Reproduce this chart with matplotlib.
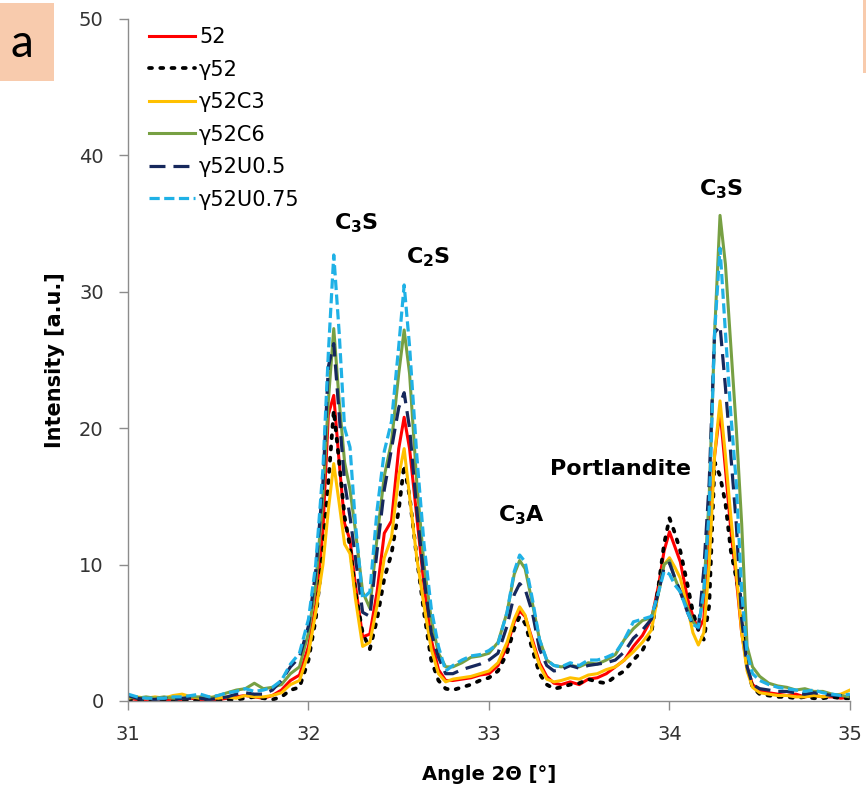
import numpy as np
import matplotlib
matplotlib.use("Agg")
import matplotlib.pyplot as plt
from matplotlib.patches import Rectangle

# diffraction angle grid (shared by all series)
angle = [
    31.00, 31.05, 31.10, 31.15, 31.20, 31.25, 31.30, 31.35, 31.40, 31.45, 31.50, 31.55, 31.60, 31.65, 31.70, 31.75, 31.80,
    31.85, 31.90, 31.95, 32.00, 32.04, 32.08, 32.11, 32.14, 32.17, 32.20, 32.23, 32.26, 32.30, 32.34, 32.38, 32.42, 32.46,
    32.50, 32.53, 32.56, 32.60, 32.64, 32.68, 32.72, 32.76, 32.80,
    32.85, 32.90, 32.95, 33.00, 33.05, 33.10, 33.14, 33.17, 33.20, 33.24, 33.28, 33.32, 33.36, 33.40, 33.45, 33.50, 33.55,
    33.60, 33.65, 33.70, 33.75, 33.80,
    33.85, 33.90, 33.94, 33.97, 34.00, 34.03, 34.06, 34.10, 34.13, 34.16, 34.19, 34.22, 34.25, 34.28, 34.31, 34.34, 34.37,
    34.40, 34.43, 34.46, 34.50,
    34.55, 34.60, 34.65, 34.70, 34.75, 34.80, 34.85, 34.90, 34.95, 35.00,
]

s52 = [
    0.2, 0.1, 0.1, 0.2, 0.1, 0.1, 0.1, 0.2, 0.1, 0.1, 0.1, 0.2, 0.3, 0.4, 0.3, 0.2, 0.4,
    0.8, 1.5, 1.9, 4.0, 7.0, 12.5, 21.0, 22.4, 17.5, 13.0, 11.8, 8.5, 4.7, 4.9, 8.0, 12.3, 13.2,
    18.5, 20.8, 18.5, 13.5, 8.5, 4.5, 2.3, 1.5, 1.5,
    1.6, 1.7, 1.9, 2.0, 2.6, 4.0, 5.8, 6.6, 6.2, 4.5, 2.8, 1.8, 1.3, 1.2, 1.4, 1.2, 1.6,
    1.7, 2.0, 2.5, 3.0, 4.0,
    4.8, 6.0, 8.5, 11.0, 12.4, 11.3, 10.2, 7.5, 6.2, 5.2, 6.0, 12.0, 18.0, 21.3, 17.0, 12.5, 9.0,
    5.0, 2.5, 1.2, 0.8,
    0.6, 0.5, 0.4, 0.5, 0.3, 0.4, 0.3, 0.3, 0.2, 0.3,
]
g52 = [
    0.1, 0.0, 0.0, 0.1, 0.0, 0.0, 0.1, 0.0, 0.0, 0.0, 0.0, 0.1, 0.1, 0.2, 0.3, 0.2, 0.1,
    0.3, 0.8, 1.0, 3.0, 6.0, 11.0, 16.0, 21.3, 17.5, 13.5, 11.3, 8.0, 5.0, 3.8, 6.0, 9.0, 10.8,
    14.0, 17.3, 15.0, 10.5, 6.5, 3.0, 1.5, 0.9, 0.8,
    1.0, 1.2, 1.5, 1.7, 2.2, 3.5, 5.3, 6.2, 5.7, 3.8, 2.0, 1.2, 0.9, 1.0, 1.2, 1.3, 1.6,
    1.4, 1.3, 1.8, 2.2, 3.0,
    3.7, 5.0, 8.5, 11.5, 13.4, 12.3, 11.0, 8.5, 6.5, 5.2, 4.5, 7.0, 17.5, 16.5, 14.5, 11.0, 9.0,
    7.0, 2.5, 1.0, 0.5,
    0.4, 0.3, 0.3, 0.2, 0.3, 0.2, 0.2, 0.3, 0.2, 0.2,
]
g52c3 = [
    0.2, 0.3, 0.2, 0.3, 0.2, 0.4, 0.5, 0.3, 0.2, 0.3, 0.2, 0.3, 0.2, 0.4, 0.3, 0.3, 0.4,
    0.6, 1.2, 1.5, 3.5, 6.5, 10.0, 14.0, 17.4, 14.5, 11.5, 10.8, 7.5, 4.0, 4.3, 7.0, 10.5, 12.0,
    16.5, 18.5, 15.0, 10.5, 7.0, 3.8, 2.0, 1.4, 1.6,
    1.7, 1.8, 2.0, 2.2, 2.8, 4.3, 6.0, 6.9, 6.3, 4.3, 2.6, 1.6, 1.4, 1.5, 1.7, 1.6, 1.9,
    2.0, 2.3, 2.5, 3.0, 3.6,
    4.3, 5.2, 8.0, 10.0, 10.5, 9.8, 9.0, 6.8, 5.0, 4.1, 5.0, 10.0, 18.0, 22.0, 18.0, 13.5, 9.5,
    5.0, 2.2, 1.0, 0.6,
    0.5, 0.4, 0.4, 0.3, 0.3, 0.4, 0.3, 0.4, 0.5, 0.8,
]
g52c6 = [
    0.3, 0.2, 0.3, 0.2, 0.3, 0.2, 0.2, 0.3, 0.3, 0.2, 0.4, 0.6, 0.8, 0.9, 1.3, 0.9, 1.0,
    1.2, 2.0, 2.5, 5.0, 8.5, 15.0, 22.0, 27.3, 22.0, 17.5, 15.5, 12.5, 8.0, 6.8, 12.0, 16.5, 19.0,
    24.0, 27.2, 24.0, 16.0, 10.0, 6.0, 3.5, 2.5, 2.5,
    2.8, 3.2, 3.3, 3.5, 4.3, 6.5, 9.3, 10.3, 9.7, 7.2, 4.5, 3.0, 2.6, 2.5, 2.6, 2.5, 2.8,
    2.7, 3.0, 3.4, 4.5, 5.3,
    5.9, 6.1, 8.0, 10.0, 10.3, 9.0, 8.0, 6.8, 5.8, 5.4, 8.0, 15.0, 27.0, 35.6, 32.0, 26.0, 20.0,
    13.0, 4.0, 2.5, 1.8,
    1.3, 1.1, 1.0, 0.8, 0.9, 0.7, 0.7, 0.5, 0.4, 0.3,
]
g52u05 = [
    0.4, 0.2, 0.1, 0.1, 0.2, 0.1, 0.2, 0.2, 0.2, 0.1, 0.2, 0.3, 0.5, 0.6, 0.5, 0.5, 0.8,
    1.5, 2.5, 3.2, 5.5, 9.5, 16.0, 24.5, 26.2, 21.0, 16.0, 13.5, 10.5, 6.5, 6.2, 11.0, 15.5, 18.5,
    21.5, 22.6, 20.0, 14.0, 9.0, 5.0, 3.2, 2.0, 2.0,
    2.3, 2.5, 2.7, 3.0, 3.5, 5.5, 7.8, 8.6, 8.2, 6.5, 3.8, 2.6, 2.2, 2.3, 2.6, 2.4, 2.6,
    2.7, 2.8, 3.0, 3.6, 4.6,
    5.2, 6.0, 8.0, 9.8, 10.1, 9.0, 8.0, 6.5, 5.6, 5.3, 9.6, 16.0, 27.0, 27.5, 23.0, 18.0, 13.0,
    6.0, 2.5, 1.2, 0.9,
    0.8, 0.7, 0.7, 0.6, 0.5, 0.6, 0.5, 0.4, 0.4, 0.3,
]
g52u075 = [
    0.5, 0.3, 0.2, 0.2, 0.2, 0.3, 0.3, 0.4, 0.5, 0.3, 0.4, 0.6, 0.7, 0.9, 0.7, 0.8, 1.0,
    1.5, 2.7, 3.5, 6.0, 10.0, 17.0, 25.5, 32.7, 27.0, 20.0, 18.6, 13.0, 7.5, 8.0, 14.0, 18.3, 20.5,
    26.0, 30.5, 26.0, 18.0, 11.5, 6.8, 4.0, 2.2, 2.6,
    3.0, 3.3, 3.4, 3.7, 4.2, 6.5, 9.5, 10.7, 10.2, 7.5, 4.5, 3.0, 2.6, 2.5, 2.8, 2.6, 3.0,
    3.0, 3.2, 3.5, 4.5, 5.8,
    6.0, 6.2, 8.0, 9.5, 9.3, 8.5, 8.0, 6.5, 5.6, 5.4, 8.0, 14.0, 27.0, 33.2, 27.0, 21.0, 16.0,
    8.0, 3.5, 2.0, 1.5,
    1.2, 1.0, 0.9, 0.8, 0.7, 0.8, 0.6, 0.5, 0.4, 0.5,
]

labels = ["52", "γ52", "γ52C3", "γ52C6", "γ52U0.5", "γ52U0.75"]
series = [s52, g52, g52c3, g52c6, g52u05, g52u075]
colors = ["#ff0000", "#000000", "#ffc000", "#77a043", "#16285c", "#1fb1e6"]
styles = ["-", (0, (0.8, 2.2)), "-", "-", (0, (5, 2.5)), (0, (3.2, 1.4))]
widths = [2.2, 2.7, 2.2, 2.2, 2.3, 2.3]

peak_names = [r"$\mathbf{C_3S}$", r"$\mathbf{C_2S}$", r"$\mathbf{C_3A}$", "Portlandite", r"$\mathbf{C_3S}$"]
peak_x = [32.263, 32.662, 33.183, 33.726, 34.285]
peak_y = [35.0, 32.5, 13.6, 17.0, 37.5]

fig = plt.figure(figsize=(8.66, 7.97), dpi=100)
ax = fig.add_axes([0.1478, 0.1205, 0.8337, 0.8557])

for vals, lab, c, ls, lw in zip(series, labels, colors, styles, widths):
    line, = ax.plot(angle, vals, color=c, linestyle=ls, linewidth=lw, label=lab)
    if lab == "γ52":
        line.set_dash_capstyle("round")

ax.set_xlim(31, 35)
ax.set_ylim(0, 50)
ax.set_xticks([31, 32, 33, 34, 35])
ax.set_yticks([0, 10, 20, 30, 40, 50])

for side in ["top", "right"]:
    ax.spines[side].set_visible(False)
for side in ["left", "bottom"]:
    ax.spines[side].set_color("#8c8c8c")
    ax.spines[side].set_linewidth(1.0)
ax.tick_params(direction="out", length=6.5, width=1.0, color="#8c8c8c",
               labelsize=14, labelcolor="#333333", pad=11)

ax.set_xlabel("Angle 2Θ [°]", fontsize=14, fontweight="bold", labelpad=15)
ax.set_ylabel("Intensity [a.u.]", fontsize=15, fontweight="bold", labelpad=10)

for name, px, py in zip(peak_names, peak_x, peak_y):
    ax.text(px, py, name, fontsize=16, fontweight="bold", ha="center", va="center")

leg = ax.legend(loc="upper left", bbox_to_anchor=(0.029, 0.988), frameon=False,
                fontsize=15, handlelength=2.2, handletextpad=0.2,
                labelspacing=0.6, borderpad=0, borderaxespad=0)

# panel letter box
fig.patches.append(Rectangle((0, 0.8984), 0.0624, 0.0979, transform=fig.transFigure,
                             facecolor="#f8cbad", edgecolor="none"))
fig.patches.append(Rectangle((863 / 866, 0.9084), 3 / 866, 0.0916, transform=fig.transFigure,
                             facecolor="#f8cbad", edgecolor="none"))
fig.text(22 / 866, 0.9285, "a", fontsize=33, family="Lato", ha="center", va="baseline")

fig.savefig("out.png", dpi=100)
